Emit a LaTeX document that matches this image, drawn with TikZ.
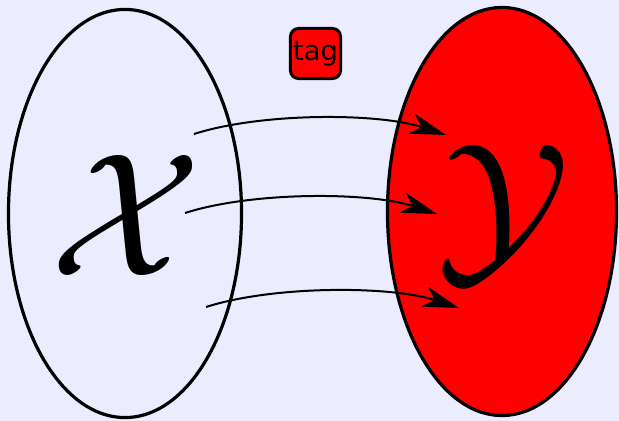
\documentclass[tikz,border=0pt]{standalone}
\usepackage{graphicx}
\usepackage{fontspec}
\newfontfamily\tagfont{DejaVu Sans}
\usetikzlibrary{arrows.meta, shapes.geometric}
\definecolor{bgcolor}{RGB}{236,236,255}
\definecolor{setred}{RGB}{255,0,0}
\newcommand{\bigset}[1]{\scalebox{12.5}{$\mathcal{#1}$}}
\tikzset{
  setbox/.style   = {ellipse, draw=black, line width=0.08cm, inner sep=0pt,
                     minimum height=10.2cm},
  letter/.style   = {inner sep=0pt},
  tagbox/.style   = {draw=black, fill=setred, line width=0.075cm, rounded corners=0.2cm,
                     minimum size=1.25cm, inner sep=0pt,
                     font=\tagfont\fontsize{19.5}{20}\selectfont},
  maparrow/.style = {-{Stealth[length=0.9cm, width=0.52cm, inset=0.26cm]},
                     line width=0.05cm, bend left=18, looseness=0.72},
}

\begin{document}
\begin{tikzpicture}[x=0.025cm, y=-0.025cm]
  \fill[bgcolor] (0,0) rectangle (619,421);
  \useasboundingbox (0,0) rectangle (619,421);
  % the two sets
  \node[setbox, fill=bgcolor, minimum width=5.825cm] (setx) at (125,213.5) {};
  \node[setbox, fill=setred, minimum width=5.725cm] (sety) at (502,211.5) {};
  \node[letter] (xletter) at (126,215) {\bigset{X}};
  \node[letter] (yletter) at (503,213.5) {\bigset{Y}};
  \node[tagbox] (tag) at (315.5,53.5) {tag};
  % mappings
  \foreach \i/\xa/\ya/\xb/\yb in {1/194/134/446/135, 2/185/213/437/214, 3/206/307/459/308} {
    \coordinate (from\i) at (\xa,\ya);
    \coordinate (to\i) at (\xb,\yb);
    \draw[maparrow] (from\i) to (to\i);
  }
\end{tikzpicture}
\end{document}
